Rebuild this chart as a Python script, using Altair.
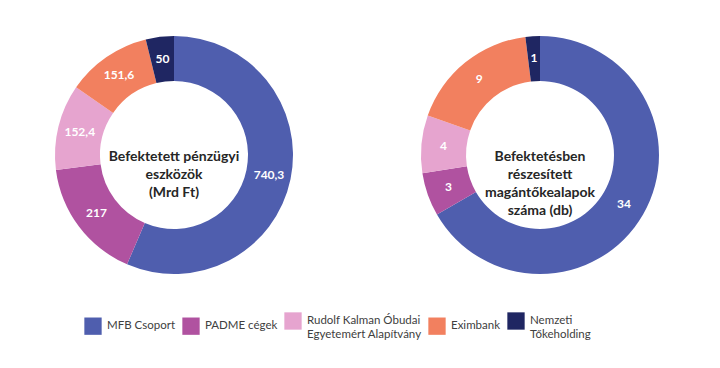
import altair as alt
import pandas as pd

categories = ["MFB Csoport", "PADME cégek", "Rudolf Kalman Óbudai Egyetemért Alapítvány",
              "Eximbank", "Nemzeti Tőkeholding"]
legend_lines = [["MFB Csoport"], ["PADME cégek"], ["Rudolf Kalman Óbudai", "Egyetemért Alapítvány"],
                ["Eximbank"], ["Nemzeti", "Tőkeholding"]]
assets_bn_huf = [740.3, 217, 152.4, 151.6, 50]
fund_counts = [34, 3, 4, 9, 1]
colors = ["#4F5EAE", "#B052A0", "#E6A4CF", "#F2805F", "#1F2662"]
center_left = ["Befektetett pénzügyi", "eszközök", "(Mrd Ft)"]
center_right = ["Befektetésben", "részesített", "magántőkealapok", "száma (db)"]

FONT = "Lato"


def fmt(v):
    return str(v).replace(".", ",")


rows = []
for i, (c, a, f) in enumerate(zip(categories, assets_bn_huf, fund_counts)):
    rows.append(dict(chart="left", cat=c, order=i, value=a, label=fmt(a)))
    rows.append(dict(chart="right", cat=c, order=i, value=f, label=fmt(f)))
df = pd.DataFrame(rows)

# legend label expression producing multi-line labels
expr = "datum.label"
for c, lines in zip(categories, legend_lines):
    if len(lines) > 1:
        arr = "[" + ",".join("'" + l + "'" for l in lines) + "]"
        expr = f"datum.label == '{c}' ? {arr} : ({expr})"

legend = alt.Legend(
    title=None, orient="none", direction="horizontal", legendX=76, legendY=304,
    symbolType="square", symbolSize=300, symbolStrokeWidth=0, symbolOpacity=1,
    labelFont=FONT, labelFontSize=11.5, labelColor="#404040", labelOffset=5,
    columnPadding=6, labelExpr=expr, labelLimit=200, padding=0,
)

color = alt.Color("cat:N", scale=alt.Scale(domain=categories, range=colors), legend=legend)


def donut(name, cx, cy, center_lines):
    d = alt.Chart(df).transform_filter(alt.datum.chart == name)
    arc = d.mark_arc(innerRadius=74, outerRadius=119).encode(
        theta=alt.Theta("value:Q", stack=True),
        color=color,
        order=alt.Order("order:Q"),
        x=alt.value(cx), y=alt.value(cy),
    )
    txt = d.mark_text(radius=97, font=FONT, fontSize=12, fontWeight="bold", color="white").encode(
        theta=alt.Theta("value:Q", stack=True),
        order=alt.Order("order:Q"),
        text="label:N",
        x=alt.value(cx), y=alt.value(cy),
    )
    center = alt.Chart(pd.DataFrame({"k": [0]})).mark_text(
        text=center_lines, font=FONT, fontSize=14, fontWeight="bold", color="#262626",
        lineHeight=18, align="center", baseline="middle",
    ).encode(x=alt.value(cx), y=alt.value(cy + 2))
    return [arc, txt, center]


layers = donut("left", 166, 147, center_left) + donut("right", 532, 147, center_right)

chart = alt.layer(*layers).resolve_scale(theta="independent").properties(
    width=704, height=352, autosize="none", padding=0, background="white",
).configure_view(stroke=None)

chart.save("out.html", embed_options={"renderer": "svg", "actions": False})
